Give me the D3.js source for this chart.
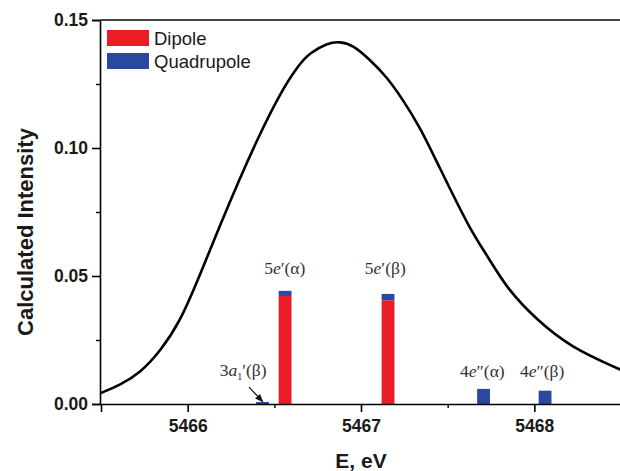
<!DOCTYPE html>
<html>
<head>
<meta charset="utf-8">
<script src="https://cdn.jsdelivr.net/npm/d3@7"></script>
<style>
  body { margin: 0; background: #fff; }
  svg { display: block; }
</style>
</head>
<body>
<svg width="620" height="471"></svg>
<script>
let width = 620;
let height = 471;
let margin = ({top: 20, right: -1, bottom: 67, left: 101});

// broadened spectrum
let curveE = [5465.5, 5465.61, 5465.725, 5465.84, 5465.956, 5466.071, 5466.187, 5466.302, 5466.40,
    5466.533, 5466.648, 5466.706, 5466.804, 5466.879, 5466.954, 5467.052, 5467.15, 5467.242,
    5467.34, 5467.438, 5467.629, 5467.727, 5467.842, 5468.015, 5468.206, 5468.5];
let curveI = [0.0043, 0.0074, 0.0121, 0.0205, 0.0320, 0.0504, 0.0699, 0.0883, 0.1031,
    0.1215, 0.1332, 0.1371, 0.1410, 0.1416, 0.1402, 0.1344, 0.1277, 0.1188,
    0.1082, 0.0945, 0.0680, 0.0582, 0.0450, 0.0328, 0.0223, 0.0133];

// stick transitions
let stickE = [5466.432, 5466.562, 5467.156, 5467.707, 5468.062];
let dipole = [0, 0.0422, 0.0405, 0, 0];
let quadrupole = [0.0008, 0.0020, 0.0025, 0.0059, 0.0052];

// peak labels: [number, orbital letter, subscript, primes, spin], anchor E and height
let labelParts = [
    ["3", "a", "1", "\u2032", "\u03B2"],
    ["5", "e", "", "\u2032", "\u03B1"],
    ["5", "e", "", "\u2032", "\u03B2"],
    ["4", "e", "", "\u2033", "\u03B1"],
    ["4", "e", "", "\u2033", "\u03B2"]
];
let labelE = [5466.32, 5466.56, 5467.14, 5467.70, 5468.045];
let labelI = [0.0109, 0.0508, 0.0508, 0.0105, 0.0105];
let arrowFrom = [5466.354, 0.0066];
let arrowTo = [5466.433, 0.0009];

let xTicks = [5466, 5467, 5468];
let xMinor = [5466.5, 5467.5];
let yTicks = [0, 0.05, 0.10, 0.15];
let yMinor = [0.025, 0.075, 0.125];

let legendNames = ["Dipole", "Quadrupole"];
let colors = ["#ea1c26", "#2a48a0"];

let x = d3.scaleLinear()
    .domain([5465.5, 5468.5])
    .range([margin.left, width - margin.right]);
let y = d3.scaleLinear()
    .domain([0, 0.15])
    .range([height - margin.bottom, margin.top]);

const svg = d3.select("svg");

const barW = x(5465.5 + 0.074) - x(5465.5);

// bars: dipole at bottom, quadrupole stacked on top
let sticks = stickE.map((e, i) => ({e, d: dipole[i], q: quadrupole[i]}));
svg.append("g")
    .selectAll("rect")
    .data(sticks.filter(s => s.d > 0))
    .join("rect")
    .attr("x", s => x(s.e) - barW / 2)
    .attr("width", barW)
    .attr("y", s => y(s.d))
    .attr("height", s => y(0) - y(s.d))
    .attr("fill", colors[0]);
svg.append("g")
    .selectAll("rect")
    .data(sticks)
    .join("rect")
    .attr("x", s => x(s.e) - barW / 2)
    .attr("width", barW)
    .attr("y", s => y(s.d + s.q))
    .attr("height", s => y(s.d) - y(s.d + s.q))
    .attr("fill", colors[1]);

// spectrum line
let line = d3.line()
    .x((d, i) => x(curveE[i]))
    .y(d => y(d))
    .curve(d3.curveBasis);
svg.append("path")
    .attr("d", line(curveI))
    .attr("fill", "none")
    .attr("stroke", "#000")
    .attr("stroke-width", 2.6);

// axes
let xAxis = g => g
    .attr("transform", `translate(0,${y(0)})`)
    .call(d3.axisBottom(x).tickValues(xTicks).tickSize(8).tickPadding(8).tickFormat(d3.format("d")))
    .call(g => g.select(".domain").attr("stroke-width", 1.6))
    .call(g => g.selectAll(".tick line").attr("stroke-width", 1.6));
let xAxisMinor = g => g
    .attr("transform", `translate(0,${y(0)})`)
    .call(d3.axisBottom(x).tickValues(xMinor).tickSize(4).tickFormat(""))
    .call(g => g.select(".domain").remove())
    .call(g => g.selectAll(".tick line").attr("stroke-width", 1.4));
let yAxis = g => g
    .attr("transform", `translate(${margin.left - 1},0)`)
    .call(d3.axisLeft(y).tickValues(yTicks).tickSize(8).tickPadding(4).tickFormat(d3.format(".2f")))
    .call(g => g.select(".domain").attr("stroke-width", 1.6))
    .call(g => g.selectAll(".tick line").attr("stroke-width", 1.6));
let yAxisMinor = g => g
    .attr("transform", `translate(${margin.left - 1},0)`)
    .call(d3.axisLeft(y).tickValues(yMinor).tickSize(4).tickFormat(""))
    .call(g => g.select(".domain").remove())
    .call(g => g.selectAll(".tick line").attr("stroke-width", 1.4));

svg.append("g").call(xAxisMinor);
svg.append("g").call(yAxisMinor);
svg.append("g").call(xAxis);
svg.append("g").call(yAxis);
svg.selectAll(".tick text")
    .attr("font-family", "'Liberation Sans', Arial, sans-serif")
    .attr("font-weight", "bold")
    .attr("font-size", 17.5)
    .attr("fill", "#1a1a1a");

// top frame line
svg.append("line")
    .attr("x1", margin.left - 1).attr("x2", width)
    .attr("y1", y(0.15)).attr("y2", y(0.15))
    .attr("stroke", "#444").attr("stroke-width", 2.2);

// axis titles
svg.append("text")
    .attr("x", x(5467))
    .attr("y", 468)
    .attr("text-anchor", "middle")
    .attr("font-family", "'Liberation Sans', Arial, sans-serif")
    .attr("font-weight", "bold")
    .attr("font-size", 21)
    .attr("fill", "#1a1a1a")
    .text("E, eV");
svg.append("text")
    .attr("transform", `translate(33,${(y(0) + y(0.15)) / 2 + 20}) rotate(-90)`)
    .attr("text-anchor", "middle")
    .attr("font-family", "'Liberation Sans', Arial, sans-serif")
    .attr("font-weight", "bold")
    .attr("font-size", 22)
    .attr("fill", "#1a1a1a")
    .text("Calculated Intensity");

// peak labels
let labels = svg.append("g")
    .attr("font-family", "'Liberation Serif', 'DejaVu Serif', serif")
    .attr("font-size", 17.5)
    .attr("fill", "#333")
    .selectAll("text")
    .data(labelParts)
    .join("text")
    .attr("x", (d, i) => x(labelE[i]))
    .attr("y", (d, i) => y(labelI[i]))
    .attr("text-anchor", "middle");
labels.append("tspan").text(d => d[0]);
labels.append("tspan").attr("font-style", "italic").text(d => d[1]);
labels.filter(d => d[2] !== "").append("tspan")
    .attr("font-size", 10).attr("dy", 4).text(d => d[2]);
labels.append("tspan")
    .attr("dy", d => d[2] !== "" ? -4 : 0)
    .text(d => d[3] + "(" + d[4] + ")");

// arrow to the tiny 3a1' stick
svg.append("defs").append("marker")
    .attr("id", "head")
    .attr("viewBox", "0 0 10 10")
    .attr("refX", 9).attr("refY", 5)
    .attr("markerWidth", 7).attr("markerHeight", 7)
    .attr("orient", "auto")
    .append("path")
    .attr("d", "M0,1L10,5L0,9z")
    .attr("fill", "#111");
svg.append("line")
    .attr("x1", x(arrowFrom[0])).attr("y1", y(arrowFrom[1]))
    .attr("x2", x(arrowTo[0])).attr("y2", y(arrowTo[1]))
    .attr("stroke", "#111").attr("stroke-width", 1.2)
    .attr("marker-end", "url(#head)");

// legend
let legend = svg.append("g")
    .selectAll("g")
    .data(legendNames)
    .join("g")
    .attr("transform", (d, i) => `translate(107,${30 + i * 23})`);
legend.append("rect")
    .attr("width", 42).attr("height", 16)
    .attr("fill", (d, i) => colors[i]);
legend.append("text")
    .attr("x", 47).attr("y", 14.5)
    .attr("font-family", "'Liberation Sans', Arial, sans-serif")
    .attr("font-size", 18.5)
    .attr("fill", "#1a1a1a")
    .text(d => d);
</script>
</body>
</html>
